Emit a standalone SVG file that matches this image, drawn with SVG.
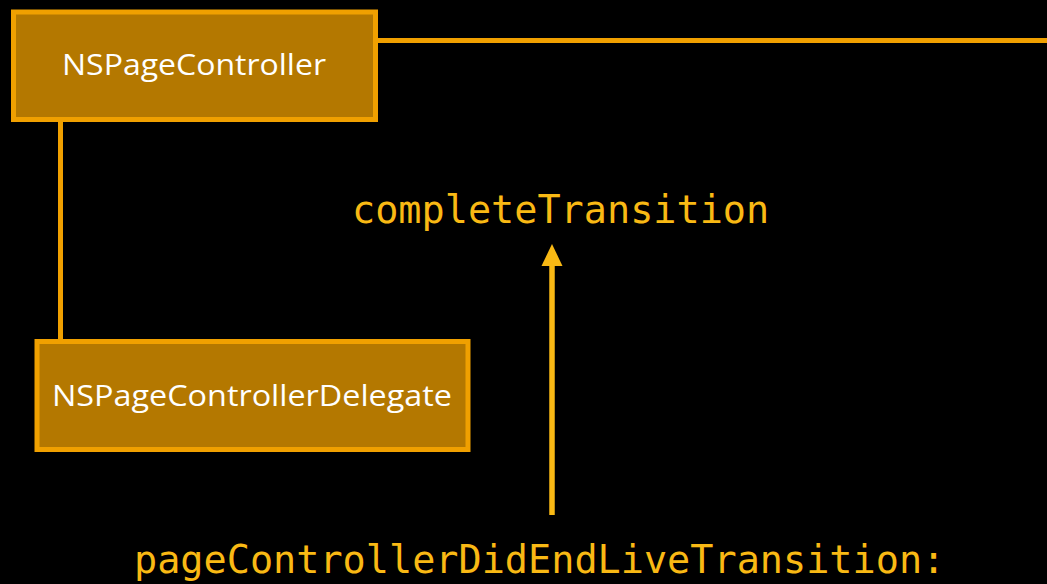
<svg xmlns="http://www.w3.org/2000/svg" width="1047" height="584" viewBox="0 0 1047 584">
<style>
.node rect{fill:#b47800;stroke:#f0a000;stroke-width:5}
.node text{fill:#ffffff;font-family:"Open Sans","Liberation Sans",sans-serif;font-size:30px;text-anchor:middle}
.conn{stroke:#f0a000;stroke-width:5;fill:none}
.code{fill:#f9b914;font-family:"DejaVu Sans Mono","Liberation Mono",monospace;font-size:38.5px}
</style>
<defs>
<marker id="ah" markerWidth="21" markerHeight="22" refX="10.5" refY="0" orient="0" markerUnits="userSpaceOnUse" viewBox="0 0 21 22">
<polygon points="10.5,0 0,22 21,22" fill="#f9b914"/>
</marker>
</defs>
<rect width="1047" height="584" fill="#000"/>
<g id="connectors">
<line class="conn" x1="378" y1="40.5" x2="1047" y2="40.5"/>
<line class="conn" x1="60.5" y1="122" x2="60.5" y2="339"/>
<line x1="552" y1="515" x2="552" y2="265" stroke="#f9b914" stroke-width="5.5"/>
<polygon points="552,244 541.5,266 562.5,266" fill="#f9b914"/>
</g>
<g id="NSPageController" class="node">
<rect x="13.5" y="12" width="362" height="107.5"/>
<text x="194" y="75" textLength="264" lengthAdjust="spacingAndGlyphs">NSPageController</text>
</g>
<g id="NSPageControllerDelegate" class="node">
<rect x="37" y="341.5" width="431" height="108"/>
<text x="252" y="406" textLength="400" lengthAdjust="spacingAndGlyphs">NSPageControllerDelegate</text>
</g>
<g id="completeTransition">
<text class="code" x="352" y="223">completeTransition</text>
</g>
<g id="pageControllerDidEndLiveTransition">
<text class="code" x="134" y="573">pageControllerDidEndLiveTransition:</text>
</g>
</svg>
